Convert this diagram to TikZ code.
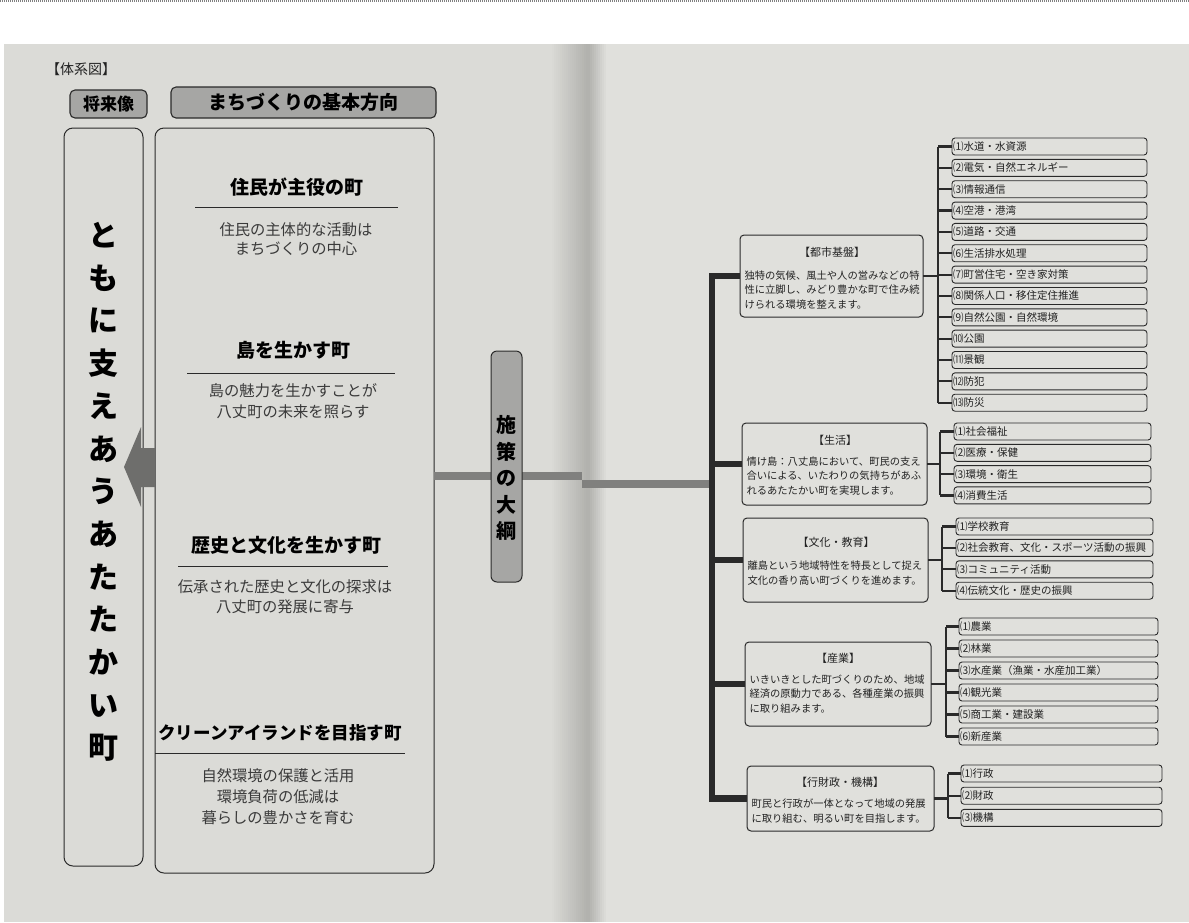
\documentclass[tikz,border=0pt]{standalone}
\usepackage{fontspec}
\setmainfont{Noto Sans CJK JP}
\usetikzlibrary{fit}
\definecolor{pageL}{HTML}{DBDBD7}
\definecolor{pageR}{HTML}{E0E0DC}
\definecolor{spine}{HTML}{B2B2AE}
\definecolor{ink}{HTML}{2A2A2A}
\definecolor{txt}{HTML}{222222}
\definecolor{softtxt}{HTML}{3A3A3A}
\definecolor{hdrgray}{HTML}{A6A6A4}
\definecolor{bandgray}{HTML}{80807E}
\definecolor{arrowgray}{HTML}{6E6E6C}
\newcommand\jfs[2]{\fontsize{#1}{#2}\selectfont}
\newcommand\itemgroup[6]{%
  % #1 prefix, #2 left x, #3 right x, #4 first top y, #5 pitch, #6 list
  \foreach \t [count=\i] in {#6} {
    \pgfmathsetmacro\ytop{#4+(\i-1)*#5}
    \node[itembox, fit={(#2,\ytop) (#3,\ytop+17)}] (#1\i) {};
    \node[itemtext, anchor=west] (#1t\i) at (#1\i.west) {\t};
    \draw[brk] (#1\i.west -| #1bx) -- (#1\i.west);
  }
}
\begin{document}
\begin{tikzpicture}[x=1pt,y=-1pt,
  every node/.style={inner sep=0pt, outer sep=0pt},
  hdr/.style={draw=ink, line width=1.1pt, fill=hdrgray, rounded corners=5pt},
  bigbox/.style={draw=ink, line width=1pt, rounded corners=9pt},
  catbox/.style={draw=ink, line width=1pt, rounded corners=4pt},
  itembox/.style={draw=ink, line width=0.9pt, rounded corners=3pt},
  itemtext/.style={inner sep=1.2pt, text=txt, font=\jfs{10.5}{12}},
  cattitle/.style={text=txt, font=\jfs{11}{13}},
  catbody/.style={text=txt, align=left, anchor=west, font=\jfs{10.3}{14.3}},
  head/.style={text=black, font=\jfs{19}{22}\bfseries},
  body/.style={text=softtxt, font=\jfs{15.3}{18}},
  rule/.style={draw=ink, line width=0.9pt},
  brk/.style={draw=ink, line width=2.2pt},
  trunk/.style={draw=ink, line width=6.5pt, line join=miter},
  band/.style={draw=bandgray, line width=7.5pt}
]
\useasboundingbox (0,0) rectangle (1189,922);
% photo background
\fill[white] (0,0) rectangle (1189,922);
\draw[gray, line width=2pt, dash pattern=on 1pt off 1pt] (0,1) -- (1189,1);
\fill[pageL] (4,44) rectangle (583,922);
\fill[pageR] (583,44) rectangle (1189,922);
% spine, as stepped strips
\foreach \k in {0,...,18} {
  \pgfmathsetmacro\pct{\k/18*100}
  \fill[spine!\pct!pageL] (550+\k*2,44) rectangle (552.2+\k*2,922);
}
\foreach \k in {0,...,9} {
  \pgfmathsetmacro\pct{100-\k/9*100}
  \fill[spine!\pct!pageR] (588+\k*2,44) rectangle (590.2+\k*2,922);
}

% title
\node[text=txt, font=\jfs{14}{16}, anchor=west] (title) at (46,69) {【体系図】};

% headers
\node[hdr, fit={(70,90) (147,118)}] (h1) {};
\node[font=\jfs{17}{20}\bfseries] (h1t) at (h1.center) {将来像};
\node[hdr, fit={(171,87) (436,118)}] (h2) {};
\node[font=\jfs{19}{22}\bfseries] (h2t) at (h2.center) {まちづくりの基本方向};

% left tall box
\node[bigbox, fit={(64,128) (143,866)}] (L) {};
\node[align=center, font=\jfs{30}{42.7}\bfseries] (vt) at (103,492)
  {と\\も\\に\\支\\え\\あ\\う\\あ\\た\\た\\か\\い\\町};

% center box
\node[bigbox, fit={(155,128) (434,873)}] (M) {};
\node[head] (m1h) at (297,187) {住民が主役の町};
\draw[rule] (195,207) -- (398,207);
\node[body] (m1a) at (296,230) {住民の主体的な活動は};
\node[body] (m1b) at (296,249) {まちづくりの中心};

\node[head] (m2h) at (293,350) {島を生かす町};
\draw[rule] (187,373) -- (395,373);
\node[body] (m2a) at (293,391) {島の魅力を生かすことが};
\node[body] (m2b) at (293,412) {八丈町の未来を照らす};

\node[head] (m3h) at (286,545) {歴史と文化を生かす町};
\draw[rule] (178,566) -- (388,566);
\node[body] (m3a) at (285,587) {伝承された歴史と文化の探求は};
\node[body] (m3b) at (285,607) {八丈町の発展に寄与};

\node[head, font=\jfs{17.5}{20}\bfseries] (m4h) at (280,733) {クリーンアイランドを目指す町};
\draw[rule] (155,753) -- (405,753);
\node[body] (m4a) at (278,776) {自然環境の保護と活用};
\node[body] (m4b) at (278,797) {環境負荷の低減は};
\node[body] (m4c) at (278,818) {暮らしの豊かさを育む};

% arrow from center box to left box
\fill[arrowgray] (124,467) -- (141,427) -- (141,448) -- (155,448) -- (155,487) -- (141,487) -- (141,507) -- cycle;

% category boxes
\node[catbox, fit={(740,235) (923,317)}] (A) {};
\node[catbox, fit={(742,423) (927,505)}] (B) {};
\node[catbox, fit={(743,518) (928,602)}] (C) {};
\node[catbox, fit={(745,642) (931,726)}] (D) {};
\node[catbox, fit={(747,766) (934,831)}] (E) {};

% trunk and band
\coordinate (trk) at (712,0);
\coordinate (sp1) at (582,476);
\coordinate (sp2) at (582,484);
\draw[band] (M.east |- sp1) -- (sp1);
\draw[band] (sp2) -- (sp2 -| trk);
\draw[trunk] (A.west) -- (A.west -| trk) -- (E.west -| trk) -- (E.west);
\draw[trunk] (B.west -| trk) -- (B.west);
\draw[trunk] (C.west -| trk) -- (C.west);
\draw[trunk] (D.west -| trk) -- (D.west);

% shisaku box
\node[draw=ink, line width=1pt, rounded corners=6pt, fill=hdrgray, fit={(491,351) (522,582)}] (S) {};
\node[align=center, font=\jfs{20}{26.5}\bfseries] (st) at (506.5,478) {施\\策\\の\\大\\綱};

% category texts
\node[cattitle] (At) at (832,252) {【都市基盤】};
\node[catbody] (Ab) at (744.5,290) {独特の気候、風土や人の営みなどの特\\性に立脚し、みどり豊かな町で住み続\\けられる環境を整えます。};
\node[cattitle] (Bt) at (835,440) {【生活】};
\node[catbody] (Bb) at (746.5,476) {情け島：八丈島において、町民の支え\\合いによる、いたわりの気持ちがあふ\\れるあたたかい町を実現します。};
\node[cattitle] (Ct) at (836,542) {【文化・教育】};
\node[catbody] (Cb) at (747.5,573) {離島という地域特性を特長として捉え\\文化の香り高い町づくりを進めます。};
\node[cattitle] (Dt) at (838,658) {【産業】};
\node[catbody] (Db) at (749.5,694) {いきいきとした町づくりのため、地域\\経済の原動力である、各種産業の振興\\に取り組みます。};
\node[cattitle] (Et) at (840,782) {【行財政・機構】};
\node[catbody] (Eb) at (751.5,811) {町民と行政が一体となって地域の発展\\に取り組む、明るい町を目指します。};

% bracket x positions
\coordinate (abx) at (938,0);
\coordinate (bbx) at (940,0);
\coordinate (cbx) at (942,0);
\coordinate (dbx) at (946,0);
\coordinate (ebx) at (948,0);

\itemgroup{a}{952}{1147}{138}{21.35}{⑴水道・水資源,⑵電気・自然エネルギー,⑶情報通信,⑷空港・港湾,⑸道路・交通,⑹生活排水処理,⑺町営住宅・空き家対策,⑻関係人口・移住定住推進,⑼自然公園・自然環境,⑽公園,⑾景観,⑿防犯,⒀防災}
\draw[brk] (a1.west -| abx) -- (a13.west -| abx);
\draw[brk] (A.east) -- (A.east -| abx);

\itemgroup{b}{954}{1151}{423}{21.3}{⑴社会福祉,⑵医療・保健,⑶環境・衛生,⑷消費生活}
\draw[brk] (b1.west -| bbx) -- (b4.west -| bbx);
\draw[brk] (B.east) -- (B.east -| bbx);

\itemgroup{c}{956}{1153}{518}{21.4}{⑴学校教育,⑵社会教育、文化・スポーツ活動の振興,⑶コミュニティ活動,⑷伝統文化・歴史の振興}
\draw[brk] (c1.west -| cbx) -- (c4.west -| cbx);
\draw[brk] (C.east) -- (C.east -| cbx);

\itemgroup{d}{959}{1158}{618}{22}{⑴農業,⑵林業,⑶水産業（漁業・水産加工業）,⑷観光業,⑸商工業・建設業,⑹新産業}
\draw[brk] (d1.west -| dbx) -- (d6.west -| dbx);
\draw[brk] (D.east) -- (D.east -| dbx);

\itemgroup{e}{961}{1162}{765}{22.2}{⑴行政,⑵財政,⑶機構}
\draw[brk] (e1.west -| ebx) -- (e3.west -| ebx);
\draw[brk] (E.east) -- (E.east -| ebx);
\end{tikzpicture}
\end{document}
